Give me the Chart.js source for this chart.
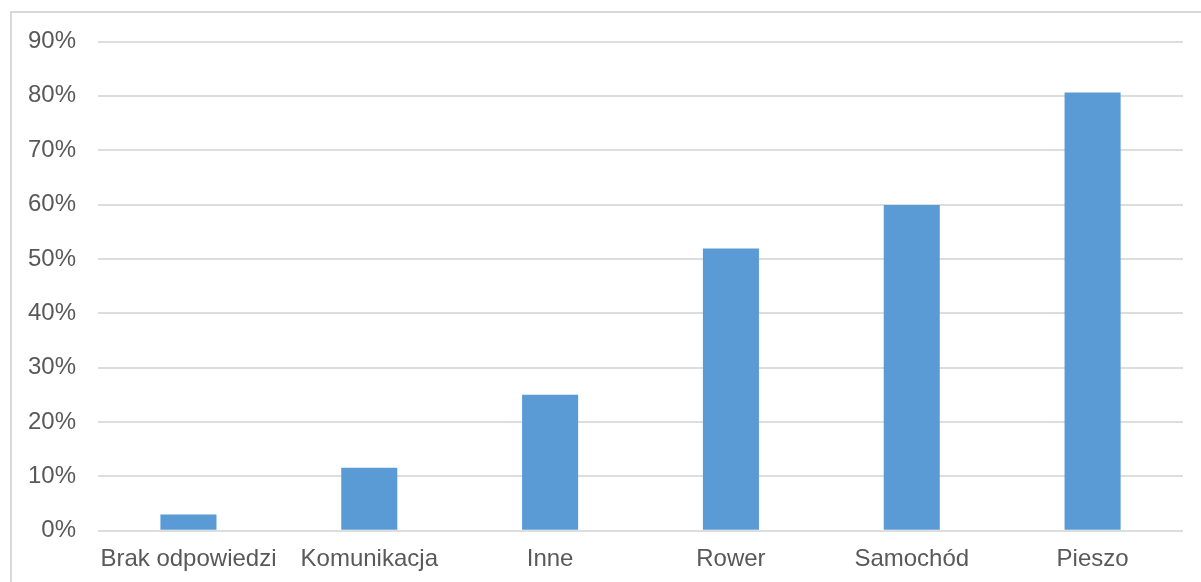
<!DOCTYPE html>
<html>
<head>
<meta charset="utf-8">
<script src="https://cdn.jsdelivr.net/npm/chart.js@4"></script>
<style>
  html, body { margin: 0; padding: 0; background: #fff; overflow: hidden; }
  #frame {
    position: absolute; left: 10px; top: 11px;
    width: 1200px; height: 580px;
    border-left: 2px solid #d9d9d9; border-top: 2px solid #d9d9d9;
  }
  #wrap { position: absolute; left: 0; top: 0; width: 1201px; height: 582px; }
</style>
</head>
<body>
<div id="frame"></div>
<div id="wrap"><canvas id="barchart"></canvas></div>
<script>
const categories = ['Brak odpowiedzi', 'Komunikacja', 'Inne', 'Rower', 'Samochód', 'Pieszo'];
const shares = [3, 11.6, 25, 51.9, 59.9, 80.6];
const yTicks = [0, 10, 20, 30, 40, 50, 60, 70, 80, 90];

const ctx1 = document.getElementById('barchart');

const barchart = new Chart(ctx1, {
  type: 'bar',
  data: {
    labels: categories,
    datasets: [{
      label: 'Udział',
      data: shares,
      backgroundColor: '#5b9bd5',
      borderWidth: 0,
      barPercentage: 0.31,
      categoryPercentage: 1
    }]
  },
  options: {
    responsive: true,
    maintainAspectRatio: false,
    animation: false,
    layout: { padding: { left: 6, right: 18, top: 41.5, bottom: 2.5 } },
    plugins: {
      legend: { display: false },
      tooltip: { enabled: false }
    },
    scales: {
      x: {
        grid: { display: false },
        border: { display: false },
        ticks: {
          color: '#595959',
          font: { family: 'Liberation Sans', size: 24 },
          padding: 6,
          autoSkip: false,
          maxRotation: 0
        }
      },
      y: {
        min: 0,
        max: 90,
        afterBuildTicks: axis => { axis.ticks = yTicks.map(v => ({ value: v })); },
        grid: { color: '#dddddd', lineWidth: 2, drawTicks: false },
        border: { display: false },
        ticks: {
          color: '#595959',
          font: { family: 'Liberation Sans', size: 24 },
          padding: 22,
          callback: function (value) {
            return value + '%';
          }
        }
      }
    }
  }
});
</script>
</body>
</html>
